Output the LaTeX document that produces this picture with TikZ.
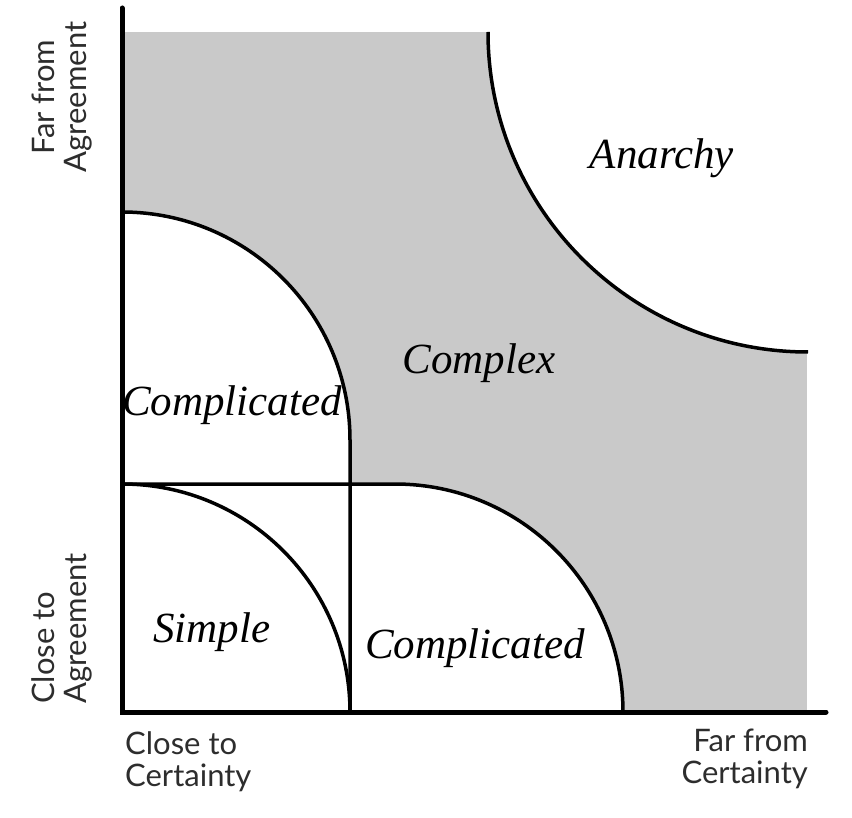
\documentclass[tikz,border=0pt]{standalone}
\usepackage{fontspec}
\setmainfont{Liberation Serif}
\newfontfamily\labelsans{Lato}
\definecolor{fieldgray}{RGB}{201,201,201}
\definecolor{inkgray}{RGB}{45,45,45}
\begin{document}
\begin{tikzpicture}[x=1pt,y=-1pt,
  region/.style={font=\fontsize{43}{43}\selectfont\itshape, inner sep=0pt},
  axislabel/.style={font=\labelsans\fontsize{31}{32}\selectfont, text=inkgray, inner sep=0pt},
  axisline/.style={line width=5pt, line cap=round},
  border/.style={line width=3.5pt}]
\path[use as bounding box] (0,0) rectangle (852,818);
% shaded field
\fill[fieldgray] (124,32) rectangle (807,712);
% white regions
\fill[white] (122,212) arc[start angle=270,end angle=360,radius=228] -- (350,712) -- (122,712) -- cycle;
\fill[white] (122,484) -- (395,484) arc[start angle=270,end angle=360,radius=228] -- (122,712) -- cycle;
\fill[white] (488,32) arc[start angle=180,end angle=90,radius=320] -- (810,32) -- cycle;
% boundaries
\draw[border] (122,212) arc[start angle=270,end angle=360,radius=228] -- (350,712);
\draw[border] (122,484) -- (395,484) arc[start angle=270,end angle=360,radius=228];
\draw[border] (122,484) arc[start angle=270,end angle=360,radius=228];
\draw[border] (488,32) arc[start angle=180,end angle=90,radius=320];
% axes
\coordinate (top) at (122,8);
\coordinate (origin) at (122,712);
\coordinate (right) at (826,712);
\draw[axisline] (top) -- (origin) -- (right);
% region labels
\node[region] (anarchy) at (662,158) {Anarchy};
\node[region] (complex) at (479,363) {Complex};
\node[region] (compup) at (232,405) {Complicated};
\node[region] (simple) at (212,632) {Simple};
\node[region] (complow) at (475,648) {Complicated};
% axis labels
\node[axislabel, anchor=north west, align=left] (closecert) at (125,731) {Close to\\Certainty};
\node[axislabel, anchor=north east, align=right] (farcert) at (808,729) {Far from\\Certainty};
\node[axislabel, rotate=90, anchor=center, align=center] (faragree) at (62,97) {Far from\\Agreement};
\node[axislabel, rotate=90, anchor=west, align=left] (closeagree) at (62,704) {Close to\\Agreement};
\end{tikzpicture}
\end{document}
